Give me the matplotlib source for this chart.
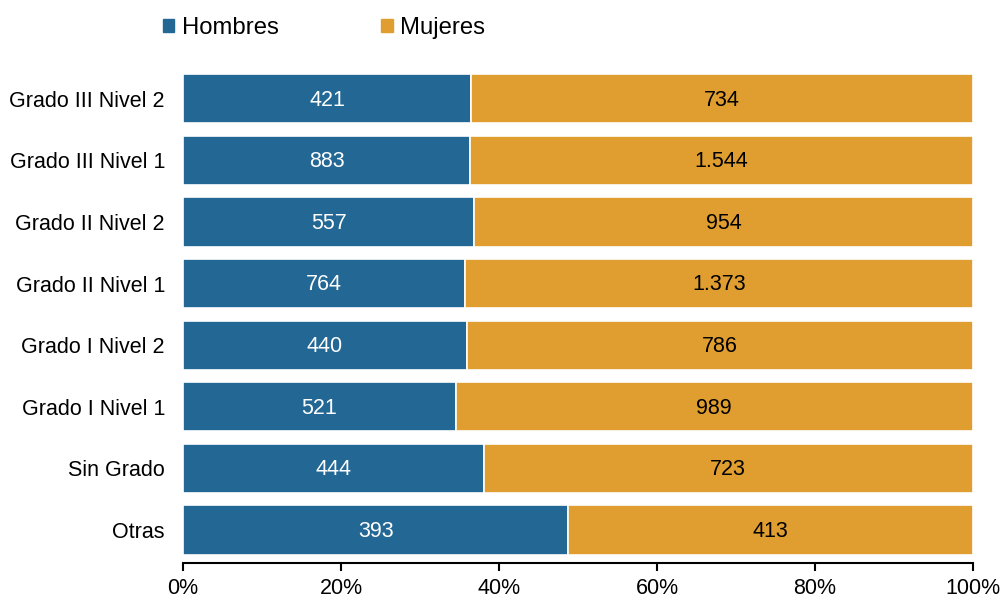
import matplotlib.pyplot as plt
from matplotlib.patches import Patch
from matplotlib.ticker import FuncFormatter

plt.rcParams['font.family'] = ['Liberation Sans', 'DejaVu Sans']

# categories from top to bottom
categorias = ["Grado III Nivel 2", "Grado III Nivel 1", "Grado II Nivel 2", "Grado II Nivel 1",
              "Grado I Nivel 2", "Grado I Nivel 1", "Sin Grado", "Otras"]
hombres = [421, 883, 557, 764, 440, 521, 444, 393]
mujeres = [734, 1544, 954, 1373, 786, 989, 723, 413]

azul = "#236795"
naranja = "#E09E30"


def miles(v):
    return f"{v:,}".replace(",", ".")


fig = plt.figure(figsize=(10.03, 6), dpi=100)
ax = fig.add_axes([183 / 1003, 37 / 600, 790 / 1003, 495 / 600])

n = len(categorias)
pos = list(range(n - 1, -1, -1))
tot = [h + m for h, m in zip(hombres, mujeres)]
ph = [h / t for h, t in zip(hombres, tot)]
pm = [m / t for m, t in zip(mujeres, tot)]

ax.barh(pos, ph, height=0.8, color=azul, edgecolor="white", linewidth=1.2)
ax.barh(pos, pm, left=ph, height=0.8, color=naranja, edgecolor="white", linewidth=1.2)

for y, a, b, h, m in zip(pos, ph, pm, hombres, mujeres):
    ax.text(a / 2, y - 0.02, miles(h), ha="center", va="center", color="white", fontsize=15.5)
    ax.text(a + b / 2, y - 0.02, miles(m), ha="center", va="center", color="black", fontsize=15.5)

ax.set_yticks(pos)
ax.set_yticklabels(categorias, fontsize=15.5)
ax.set_xlim(0, 1)
ax.set_ylim(-0.536, n - 0.5)
ax.set_xticks([0, 0.2, 0.4, 0.6, 0.8, 1.0])
ax.xaxis.set_major_formatter(FuncFormatter(lambda v, p: f"{v * 100:.0f}%"))
ax.tick_params(axis="x", labelsize=15.5, length=6, width=1.5, direction="out", pad=5)
ax.tick_params(axis="y", length=0, pad=13)
for s in ["top", "right", "left"]:
    ax.spines[s].set_visible(False)
ax.spines["bottom"].set_linewidth(1.5)

handles = [Patch(color=azul, label="Hombres"), Patch(color=naranja, label="Mujeres")]
fig.legend(handles=handles, loc="center left", bbox_to_anchor=(141 / 1003, 1 - 28 / 600),
           ncol=2, frameon=False, fontsize=17.2, handlelength=0.5, handleheight=0.5,
           handletextpad=0.3, columnspacing=4.3)

fig.savefig("out.png", dpi=100)
